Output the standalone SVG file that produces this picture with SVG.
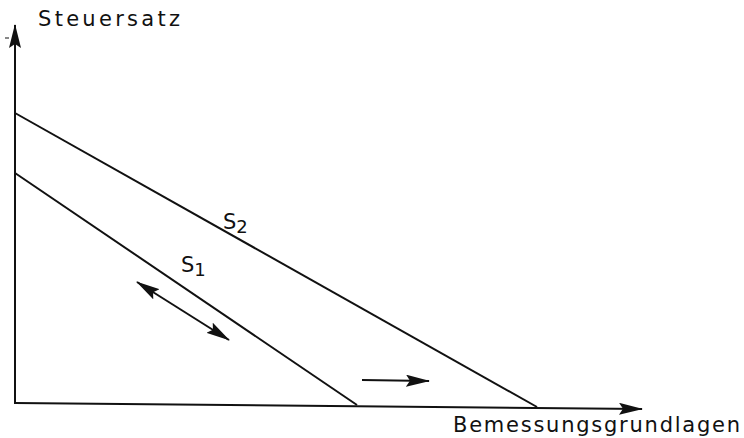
<svg xmlns="http://www.w3.org/2000/svg" width="744" height="438" viewBox="0 0 744 438">
<style>
.ln{stroke:#111;stroke-width:2;fill:none}
.t{font-family:"DejaVu Sans","Liberation Sans",sans-serif;font-size:21px;fill:#111}
</style>
<defs>
<marker id="ah" viewBox="0 0 24 12" refX="23" refY="6" markerWidth="24" markerHeight="12" markerUnits="userSpaceOnUse" orient="auto-start-reverse">
<path d="M0,0 L24,6 L0,12 L4,6 Z" fill="#111"/>
</marker>
</defs>
<rect width="744" height="438" fill="#fff"/>
<g id="axes">
<line class="ln" x1="15" y1="404" x2="15" y2="25" marker-end="url(#ah)"/>
<line class="ln" x1="15" y1="403" x2="642" y2="409" marker-end="url(#ah)"/>
<line x1="5" y1="38" x2="9" y2="38" stroke="#111" stroke-width="1"/>
</g>
<g id="s2">
<line class="ln" x1="15" y1="113" x2="537" y2="407"/>
<text class="t" x="223" y="229">S<tspan font-size="18" dy="4">2</tspan></text>
</g>
<g id="s1">
<line class="ln" x1="15" y1="173" x2="357" y2="405"/>
<text class="t" x="181" y="272">S<tspan font-size="18" dy="4">1</tspan></text>
</g>
<g id="connectors">
<line class="ln" x1="137" y1="282" x2="229" y2="340" marker-start="url(#ah)" marker-end="url(#ah)"/>
<line class="ln" x1="362" y1="380" x2="429" y2="381" marker-end="url(#ah)"/>
</g>
<g id="labels">
<text class="t" x="38" y="26" textLength="142" lengthAdjust="spacing">Steuersatz</text>
<text class="t" x="453" y="432" textLength="287" lengthAdjust="spacing">Bemessungsgrundlagen</text>
</g>
</svg>
